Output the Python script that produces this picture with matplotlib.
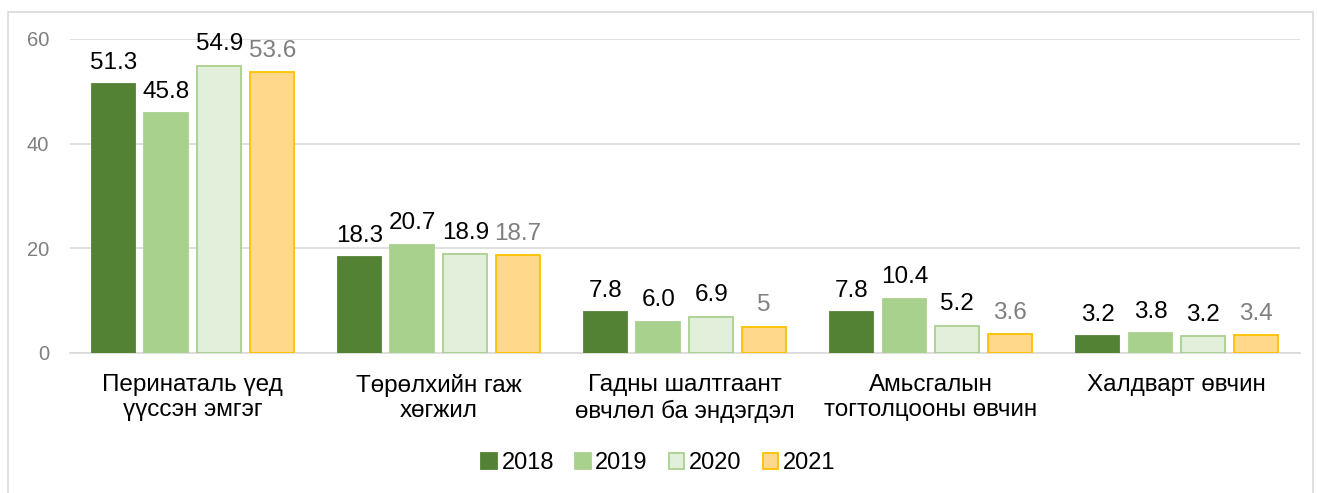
import numpy as np
import matplotlib
matplotlib.use("Agg")
import matplotlib.pyplot as plt
from matplotlib.patches import Rectangle

plt.rcParams["font.family"] = ["Liberation Sans", "DejaVu Sans"]

categories = ["Перинаталь үед\nүүссэн эмгэг", "Төрөлхийн гаж\nхөгжил",
              "Гадны шалтгаант\nөвчлөл ба эндэгдэл", "Амьсгалын\nтогтолцооны өвчин",
              "Халдварт өвчин"]
years = ["2018", "2019", "2020", "2021"]
v2018 = [51.3, 18.3, 7.8, 7.8, 3.2]
v2019 = [45.8, 20.7, 6.0, 10.4, 3.8]
v2020 = [54.9, 18.9, 6.9, 5.2, 3.2]
v2021 = [53.6, 18.7, 5.0, 3.6, 3.4]
labels2021 = ["53.6", "18.7", "5", "3.6", "3.4"]

series = [v2018, v2019, v2020, v2021]
faces = ["#548235", "#A9D18E", "#E2EFDA", "#FFD88C"]
edges = ["#548235", "#A9D18E", "#A9D18E", "#FFC000"]
label_colors = ["black", "black", "black", "#7F7F7F"]

fig = plt.figure(figsize=(13.17, 4.93), dpi=100)
ax = fig.add_axes([0.053, 0.284, 0.934, 0.637])

x = np.arange(len(categories))
pitch = 0.215
width = 0.178
for i, vals in enumerate(series):
    pos = x + (i - 1.5) * pitch
    ax.bar(pos, vals, width, color=faces[i], edgecolor=edges[i],
           linewidth=1.3, label=years[i], zorder=3)
    for j, v in enumerate(vals):
        txt = labels2021[j] if i == 3 else f"{v:.1f}"
        ax.annotate(txt, (pos[j], v), xytext=(0, 7.5), textcoords="offset points",
                    ha="center", va="bottom", fontsize=17.5,
                    color=label_colors[i])

ax.set_xlim(-0.5, 4.5)
ax.set_ylim(0, 60)
ax.set_yticks([0, 20, 40, 60])
ax.yaxis.grid(True, color="#D9D9D9", lw=1.2)
ax.set_axisbelow(True)
for s in ["top", "right", "left"]:
    ax.spines[s].set_visible(False)
ax.spines["bottom"].set_color("#D9D9D9")
ax.spines["bottom"].set_linewidth(1.2)
ax.tick_params(axis="y", length=0, pad=15, labelsize=14.5, labelcolor="#7F7F7F")
ax.tick_params(axis="x", length=0, pad=15, labelsize=17.5)
ax.set_xticks(x)
ax.set_xticklabels(categories, linespacing=1.2)

leg = fig.legend(loc="center", bbox_to_anchor=(0.5, 0.06), ncol=4,
                 frameon=False, fontsize=17, handlelength=0.65,
                 handleheight=0.65, handletextpad=0.2, columnspacing=0.9)

# outer chart border
fig.patches.append(Rectangle((8 / 1317, -0.05), 1305 / 1317, 1 - 12 / 493 + 0.05,
                             transform=fig.transFigure, fill=False,
                             edgecolor="#D9D9D9", lw=1.2))

fig.savefig("out.png", dpi=100)
